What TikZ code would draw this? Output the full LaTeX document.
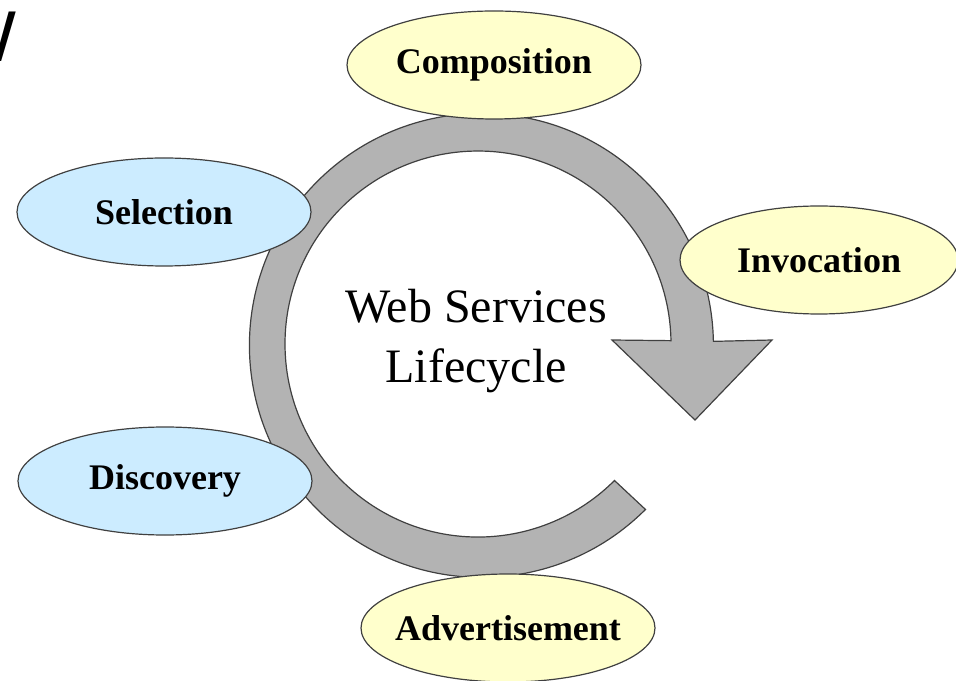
\documentclass[tikz,border=0pt]{standalone}
\usepackage{fontspec}
\setmainfont{Liberation Serif}
\newfontfamily\titlefont{Liberation Sans}
\usetikzlibrary{shapes,shapes.geometric}
\definecolor{paleyellow}{HTML}{FFFFCC}
\definecolor{paleblue}{HTML}{CCECFF}
\definecolor{ringgray}{HTML}{B3B3B3}

\begin{document}
\begin{tikzpicture}[x=0.5pt,y=0.5pt,
      every node/.append style={inner sep=0pt},
      stage/.style={ellipse,draw=black!75,line width=0.6pt,
        minimum width=147pt,minimum height=54pt,inner xsep=-6pt,
        font=\bfseries\fontsize{18}{20}\selectfont},
      yellow stage/.style={stage,fill=paleyellow},
      blue stage/.style={stage,fill=paleblue},
      ring/.style={draw=black!75,line width=0.6pt,fill=ringgray,line join=miter}]
    \useasboundingbox (0,0) rectangle (956,680);
    % cut-off title at the top left
    \begin{scope}
      \clip (0,560) rectangle (17,680);
      \node (title) [anchor=base west,font=\titlefont\fontsize{36}{40}\selectfont] at (-52,618) {We};
    \end{scope}
    % the lifecycle arrow
    \coordinate (hub) at (480,336);
    \draw[ring] ([shift={(-45:234)}]hub) arc[start angle=-45,end angle=-359,radius=232]
      -- (772,340) -- (695,260) -- (612,340)
      -- ([shift={(1:191)}]hub) arc[start angle=-359,end angle=-45,radius=193] -- cycle;
    \node (lifecycle) [align=center,font=\fontsize{24}{30}\selectfont] at (476,339) {Web Services\\Lifecycle};
    % the stages
    \node (composition) [yellow stage] at (494,615) {Composition};
    \node (invocation) [yellow stage,minimum width=139pt] at (819,420) {Invocation};
    \node (advertisement) [yellow stage] at (508,52) {Advertisement};
    \node (selection) [blue stage] at (164,468) {Selection};
    \node (discovery) [blue stage] at (165,199) {Discovery};
\end{tikzpicture}
\end{document}
